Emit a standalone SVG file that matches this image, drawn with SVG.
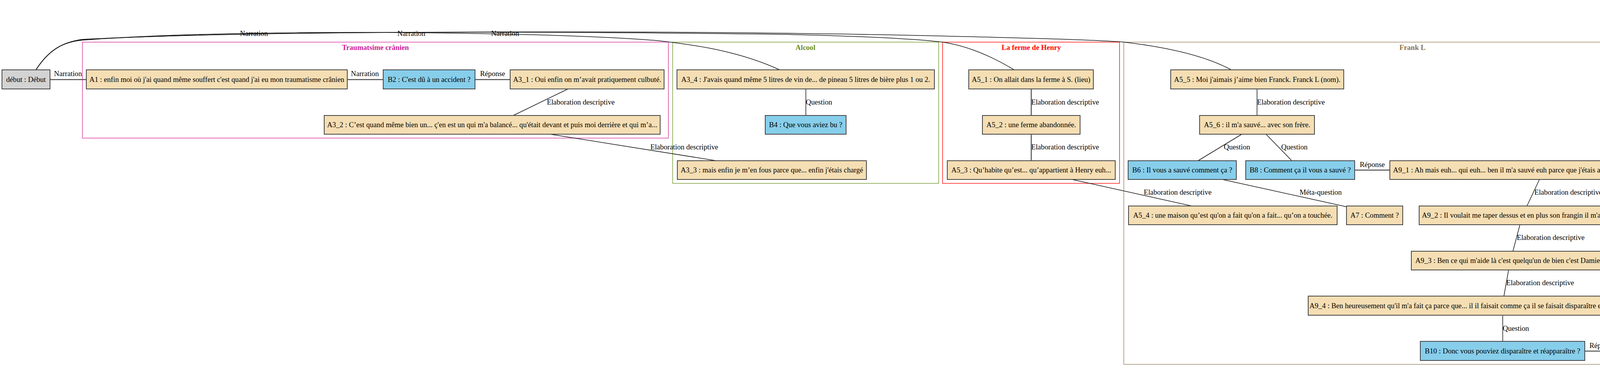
<svg xmlns="http://www.w3.org/2000/svg" width="4372" height="951" viewBox="0 0 4372 951">
<style>
text{font-family:"Liberation Serif","Times New Roman",serif;font-size:18.67px;fill:#000}
.n{text-anchor:middle}
.w rect{fill:#f5deb3;stroke:#444;stroke-width:2}
.b rect{fill:#87ceeb;stroke:#444;stroke-width:2}
.g rect{fill:#d3d3d3;stroke:#444;stroke-width:2}
.cl{fill:none;stroke-width:2}
.ct{font-weight:bold;text-anchor:middle}
.e path,.e line{fill:none;stroke:#111;stroke-width:1.5}
.e .h{stroke:#4d4d4d;stroke-width:2.5}
.m{text-anchor:middle}
</style>
<rect width="4372" height="951" fill="#fff"/>
<g id="clusters">
<g id="cluster_trauma"><rect class="cl" x="211" y="108" width="1500" height="246" stroke="#e36cba"/><text class="ct" x="961" y="128" fill="#cc1a93" style="fill:#cc1a93">Traumatsime crânien</text></g>
<g id="cluster_alcool"><rect class="cl" x="1722" y="108" width="681" height="362" stroke="#9bb56a"/><text class="ct" x="2062" y="128" style="fill:#6b8e23">Alcool</text></g>
<g id="cluster_ferme"><rect class="cl" x="2413" y="108" width="453" height="362" stroke="#ff4d4d"/><text class="ct" x="2640" y="128" style="fill:#ff0000">La ferme de Henry</text></g>
<g id="cluster_frank"><rect class="cl" x="2877" y="108" width="1478" height="826" stroke="#b8a68c"/><text class="ct" x="3616" y="128" style="fill:#8b6f47">Frank L</text></g>
</g>
<g id="connectors" class="e">
<path d="M92,179 C125,128 160,108 210,103 C500,80 1000,80 1317,88 C1500,92 1650,100 1700,106 C1800,118 1900,135 1996,179"/>
<path d="M92,179 C125,128 160,108 210,102 C600,78 1400,80 2000,88 C2200,92 2350,100 2413,108 C2480,118 2540,145 2596,179"/>
<path d="M92,179 C125,128 160,108 210,101 C700,76 1800,78 2400,92 C2650,98 2800,102 2877,108 C2980,120 3080,140 3152,179"/>
<text class="m" x="650" y="92">Narration</text>
<text class="m" x="1053" y="92">Narration</text>
<text class="m" x="1293" y="92">Narration</text>
<line class="h" x1="128" y1="204" x2="221" y2="204"/><text class="m" x="174" y="195">Narration</text>
<line class="h" x1="889" y1="204" x2="981" y2="204"/><text class="m" x="934" y="195">Narration</text>
<line class="h" x1="1216" y1="204" x2="1306" y2="204"/><text class="m" x="1261" y="195">Réponse</text>
<line x1="1454" y1="228" x2="1314" y2="296"/><text x="1400" y="268">Elaboration descriptive</text>
<line x1="1408" y1="344" x2="1834" y2="412"/><text x="1665" y="383">Elaboration descriptive</text>
<line x1="2063" y1="228" x2="2063" y2="296"/><text x="2063" y="268">Question</text>
<line class="h" x1="2640" y1="228" x2="2640" y2="296"/><text x="2640" y="268">Elaboration descriptive</text>
<line class="h" x1="2640" y1="344" x2="2640" y2="412"/><text x="2640" y="383">Elaboration descriptive</text>
<line x1="2744" y1="460" x2="3051" y2="528"/><text x="2928" y="499">Elaboration descriptive</text>
<line x1="3218" y1="228" x2="3218" y2="296"/><text x="3218" y="268">Elaboration descriptive</text>
<line x1="3179" y1="344" x2="3067" y2="412"/><text x="3133" y="383">Question</text>
<line x1="3241" y1="344" x2="3307" y2="412"/><text x="3280" y="383">Question</text>
<line class="h" x1="3468" y1="436" x2="3558" y2="436"/><text class="m" x="3513" y="428">Réponse</text>
<line x1="3129" y1="460" x2="3447" y2="530"/><text x="3327" y="499">Méta-question</text>
<line x1="3941" y1="460" x2="3909" y2="528"/><text x="3928" y="499">Elaboration descriptive</text>
<line x1="3891" y1="576" x2="3873" y2="644"/><text x="3883" y="615">Elaboration descriptive</text>
<line x1="3862" y1="692" x2="3850" y2="759"/><text x="3856" y="731">Elaboration descriptive</text>
<line x1="3847" y1="808" x2="3847" y2="875"/><text x="3847" y="848">Question</text>
<line class="h" x1="4057" y1="900" x2="4146" y2="900"/><text class="m" x="4101" y="892">Réponse</text>
</g>
<g id="debut" class="g"><rect x="5" y="179" width="123" height="49"/><text class="n" x="66.5" y="210">début : Début</text></g>
<g id="A1" class="w"><rect x="221" y="179" width="668" height="49"/><text class="n" x="555" y="210">A1 : enfin moi où j'ai quand même souffert c'est quand j'ai eu mon traumatisme crânien</text></g>
<g id="B2" class="b"><rect x="981" y="179" width="235" height="49"/><text class="n" x="1098.5" y="210">B2 : C'est dû à un accident ?</text></g>
<g id="A3_1" class="w"><rect x="1306" y="179" width="394" height="49"/><text class="n" x="1503" y="210">A3_1 : Oui enfin on m’avait pratiquement culbuté.</text></g>
<g id="A3_2" class="w"><rect x="830" y="296" width="860" height="48"/><text class="n" x="1260" y="326">A3_2 : C’est quand même bien un...  ç'en est un qui m'a balancé... qu'était devant et puis moi derrière et qui m’a...</text></g>
<g id="A3_4" class="w"><rect x="1733" y="179" width="659" height="49"/><text class="n" x="2062.5" y="210">A3_4 : J'avais quand même 5 litres de vin de... de  pineau 5 litres de bière plus 1 ou 2.</text></g>
<g id="B4" class="b"><rect x="1959" y="296" width="207" height="48"/><text class="n" x="2062.5" y="326">B4 : Que vous aviez bu ?</text></g>
<g id="A3_3" class="w"><rect x="1734" y="412" width="484" height="48"/><text class="n" x="1976" y="442">A3_3 : mais enfin je m’en fous parce que... enfin j'étais chargé</text></g>
<g id="A5_1" class="w"><rect x="2480" y="179" width="319" height="49"/><text class="n" x="2639.5" y="210">A5_1 : On allait dans la ferme à S. (lieu)</text></g>
<g id="A5_2" class="w"><rect x="2515" y="296" width="250" height="48"/><text class="n" x="2640" y="326">A5_2 : une ferme abandonnée.</text></g>
<g id="A5_3" class="w"><rect x="2425" y="412" width="430" height="48"/><text class="n" x="2640" y="442">A5_3 : Qu’habite qu’est... qu’appartient à Henry euh...</text></g>
<g id="A5_5" class="w"><rect x="2997" y="179" width="443" height="49"/><text class="n" x="3218.5" y="210">A5_5 : Moi j'aimais j’aime bien Franck. Franck L (nom).</text></g>
<g id="A5_6" class="w"><rect x="3071" y="296" width="294" height="48"/><text class="n" x="3218" y="326">A5_6 : il m'a sauvé... avec son frère.</text></g>
<g id="B6" class="b"><rect x="2888" y="412" width="277" height="48"/><text class="n" x="3026.5" y="442">B6 : Il vous a sauvé comment ça ?</text></g>
<g id="B8" class="b"><rect x="3189" y="412" width="279" height="48"/><text class="n" x="3328.5" y="442">B8 : Comment ça il vous a sauvé ?</text></g>
<g id="A9_1" class="w"><rect x="3558" y="412" width="787" height="48"/><text class="n" x="3951.5" y="442">A9_1 : Ah mais euh... qui euh... ben il m'a sauvé euh parce que j'étais avec lui parce qu'il... buvait quoi.</text></g>
<g id="A5_4" class="w"><rect x="2889" y="528" width="534" height="48"/><text class="n" x="3156" y="558">A5_4 : une maison qu’est qu'on a fait qu'on a fait... qu’on a touchée.</text></g>
<g id="A7" class="w"><rect x="3447" y="528" width="144" height="48"/><text class="n" x="3519" y="558">A7 : Comment ?</text></g>
<g id="A9_2" class="w"><rect x="3633" y="528" width="530" height="48"/><text class="n" x="3898" y="558">A9_2 : Il voulait me taper dessus et en plus son frangin il m'a enlevé.</text></g>
<g id="A9_3" class="w"><rect x="3613" y="644" width="507" height="48"/><text class="n" x="3866.5" y="674">A9_3 : Ben ce qui m'aide là c'est quelqu'un de bien c'est Damien.</text></g>
<g id="A9_4" class="w"><rect x="3349" y="759" width="996" height="49"/><text class="n" x="3847" y="790">A9_4 : Ben heureusement qu'il m'a fait ça parce que... il il faisait comme ça il se faisait disparaître et je peux le faire moi disparaître.</text></g>
<g id="B10" class="b"><rect x="3636" y="875" width="421" height="49"/><text class="n" x="3846.5" y="906">B10 : Donc vous pouviez disparaître et réapparaître ?</text></g>
<g id="A11" class="w"><rect x="4146" y="875" width="100" height="49"/><text class="n" x="4196" y="906">A11 : Oui.</text></g>
</svg>
